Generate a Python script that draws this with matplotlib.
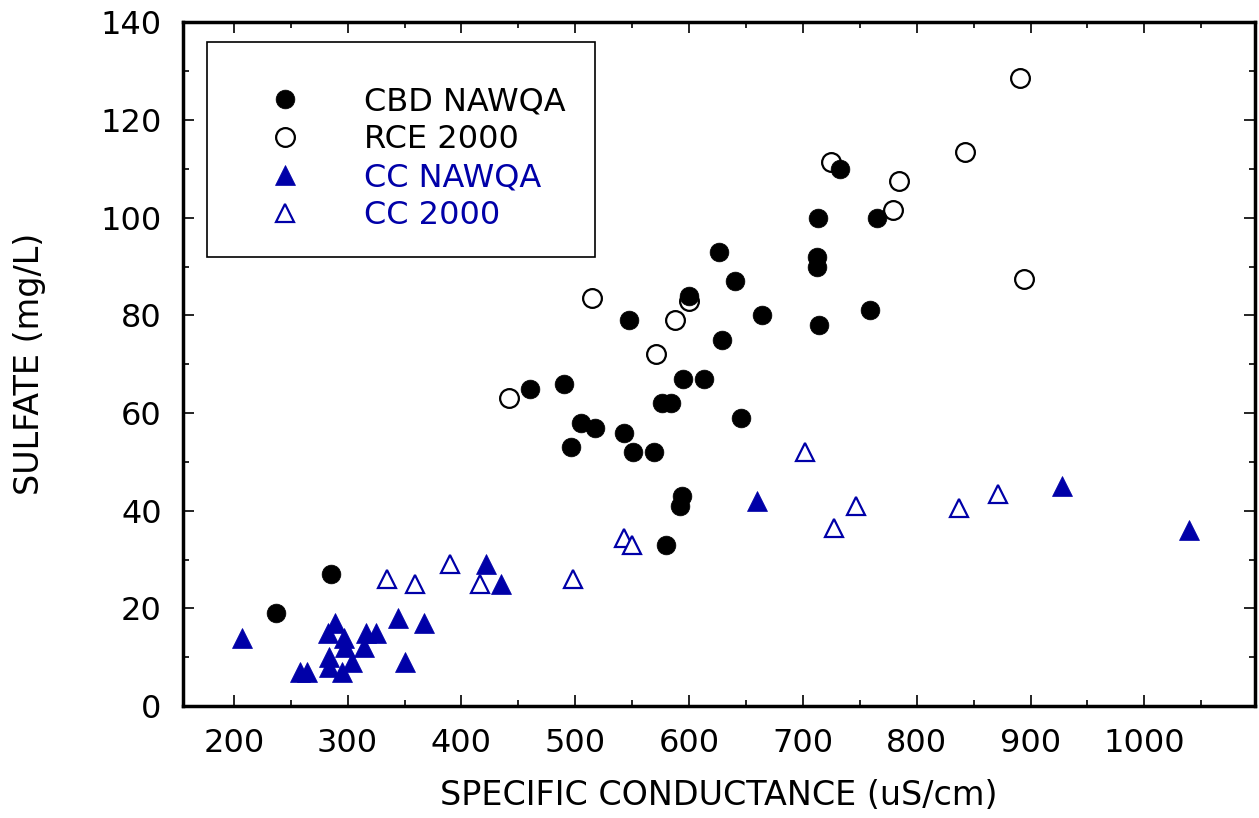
import matplotlib.pyplot as plt
from matplotlib.patches import Rectangle
from matplotlib.ticker import MultipleLocator

plt.rcParams['font.family'] = ['DejaVu Sans']

# CBD NAWQA (filled circles)
cbd_nawqa_x = [237, 285, 460, 490, 496, 505, 517, 543, 547, 551, 569, 576, 584,
               595, 613, 600, 626, 629, 640, 646, 664, 712, 712, 713, 714, 733,
               759, 765, 580, 594, 592]
cbd_nawqa_y = [19, 27, 65, 66, 53, 58, 57, 56, 79, 52, 52, 62, 62,
               67, 67, 84, 93, 75, 87, 59, 80, 92, 90, 100, 78, 110,
               81, 100, 33, 43, 41]

# RCE 2000 (open circles)
rce_2000_x = [442, 515, 571, 588, 600, 725, 779, 784, 842, 891, 894]
rce_2000_y = [63, 83.5, 72, 79, 83, 111.5, 101.5, 107.5, 113.5, 128.5, 87.5]

# CC NAWQA (filled triangles)
cc_nawqa_x = [207, 258, 264, 283, 289, 297, 298, 284, 284, 295, 304, 314,
              316, 325, 344, 350, 367, 422, 435, 660, 928, 1039]
cc_nawqa_y = [14, 7, 7, 15, 17, 14, 12, 10, 8, 7, 9, 12,
              15, 15, 18, 9, 17, 29, 25, 42, 45, 36]

# CC 2000 (open triangles)
cc_2000_x = [335, 359, 390, 416, 498, 543, 550, 702, 727, 747, 837, 871]
cc_2000_y = [26, 25, 29, 25, 26, 34.5, 33, 52, 36.5, 41, 40.5, 43.5]

blue = '#0000A8'

fig = plt.figure(figsize=(12.59, 8.18), dpi=100)
ax = fig.add_axes([0.145, 0.1369, 0.8521, 0.8358])

h_rce, = ax.plot(rce_2000_x, rce_2000_y, 'o', ms=13.5, mfc='white', mec='black',
                 mew=1.6, ls='none', label='RCE 2000')
h_cc2, = ax.plot(cc_2000_x, cc_2000_y, '^', ms=13.5, mfc='white', mec=blue,
                 mew=1.6, ls='none', label='CC 2000')
h_cbd, = ax.plot(cbd_nawqa_x, cbd_nawqa_y, 'o', ms=13.5, mfc='black', mec='black',
                 mew=0.5, ls='none', label='CBD NAWQA')
h_ccn, = ax.plot(cc_nawqa_x, cc_nawqa_y, '^', ms=14, mfc=blue, mec=blue,
                 mew=0.5, ls='none', label='CC NAWQA')

ax.set_xlim(155, 1097.5)
ax.set_ylim(0, 140)
ax.xaxis.set_major_locator(MultipleLocator(100))
ax.xaxis.set_minor_locator(MultipleLocator(50))
ax.yaxis.set_major_locator(MultipleLocator(20))
ax.yaxis.set_minor_locator(MultipleLocator(10))
ax.tick_params(which='both', direction='in', top=True, right=True, width=1.2)
ax.tick_params(which='major', length=8, labelsize=23)
ax.tick_params(which='minor', length=4.5)
ax.tick_params(axis='x', pad=15.5)
ax.tick_params(axis='y', pad=15)
for s in ax.spines.values():
    s.set_linewidth(2.5)

ax.set_xlabel('SPECIFIC CONDUCTANCE (uS/cm)', fontsize=24, labelpad=15)
ax.set_ylabel('SULFATE (mg/L)', fontsize=24)
ax.yaxis.set_label_coords(-0.127, 0.5)

# legend box
ax.add_patch(Rectangle((0.0228, 0.6567), 0.3616, 0.3145, transform=ax.transAxes,
                       fill=False, edgecolor='black', linewidth=1.2, zorder=5))
leg = ax.legend(handles=[h_cbd, h_rce, h_ccn, h_cc2], loc='upper left',
                bbox_to_anchor=(0.0806, 0.906), frameon=False, fontsize=23,
                handlelength=1, handletextpad=1.98, labelspacing=0.21,
                borderpad=0, borderaxespad=0,
                labelcolor=['black', 'black', blue, blue])

plt.savefig('out.png', dpi=100)
